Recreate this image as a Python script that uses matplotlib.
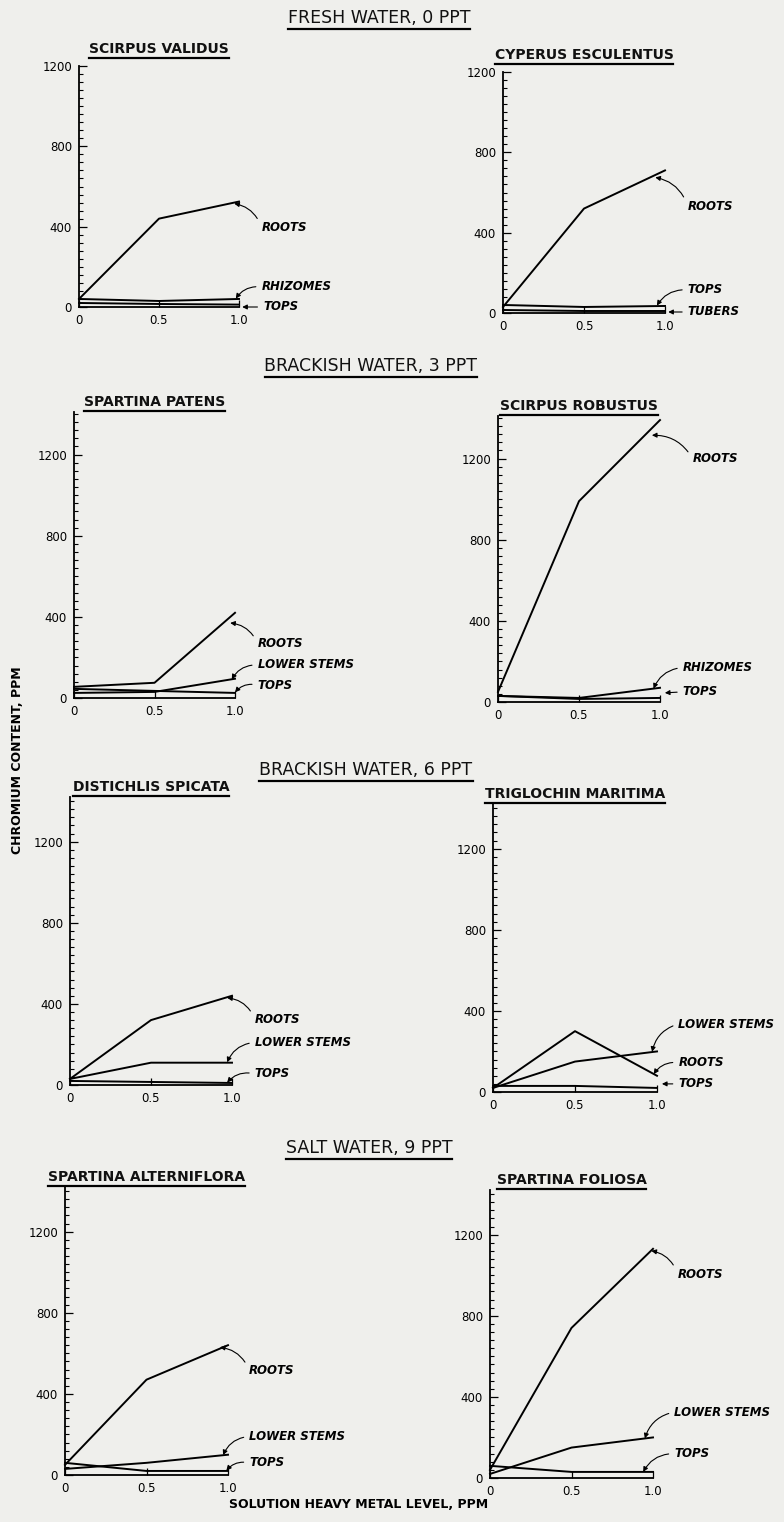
import matplotlib
matplotlib.use("Agg")
import matplotlib.pyplot as plt
from matplotlib.lines import Line2D
from matplotlib.ticker import MultipleLocator

# solution heavy metal level, ppm
levels = [0, 0.5, 1.0]

# fresh water, 0 ppt
validus_roots = [40, 440, 525]
validus_rhizomes = [40, 30, 40]
validus_tops = [20, 15, 12]

cyperus_roots = [30, 520, 710]
cyperus_tops = [40, 30, 35]
cyperus_tubers = [15, 10, 10]

# brackish water, 3 ppt
patens_roots = [55, 75, 420]
patens_lower_stems = [25, 30, 95]
patens_tops = [45, 35, 25]

robustus_roots = [50, 990, 1390]
robustus_rhizomes = [30, 20, 70]
robustus_tops = [30, 15, 20]

# brackish water, 6 ppt
distichlis_roots = [30, 320, 440]
distichlis_lower_stems = [30, 110, 110]
distichlis_tops = [20, 15, 10]

triglochin_roots = [20, 300, 80]
triglochin_lower_stems = [20, 150, 200]
triglochin_tops = [30, 30, 20]

# salt water, 9 ppt
alterniflora_roots = [50, 470, 640]
alterniflora_lower_stems = [30, 60, 100]
alterniflora_tops = [60, 20, 20]

foliosa_roots = [40, 740, 1130]
foliosa_lower_stems = [20, 150, 200]
foliosa_tops = [60, 30, 30]

BG = "#efefec"
W, H = 784, 1522

fig = plt.figure(figsize=(7.84, 15.22), dpi=100, facecolor=BG)


def px_axes(left, bottom, width, height):
    return fig.add_axes([left / W, 1 - bottom / H, width / W, height / H])


# (title, axes px box, ymax, series, labels: (text, text xy, arrow xy, rad))
panels = [
    ("SCIRPUS VALIDUS", (79, 307, 160, 241), 1200,
     [validus_roots, validus_rhizomes, validus_tops],
     [("ROOTS", (1.14, 395), (0.97, 515), 0.3),
      ("RHIZOMES", (1.14, 100), (0.98, 42), 0.3),
      ("TOPS", (1.15, 0), (1.02, 0), 0.0)]),
    ("CYPERUS ESCULENTUS", (503, 313, 162, 241), 1200,
     [cyperus_roots, cyperus_tops, cyperus_tubers],
     [("ROOTS", (1.14, 530), (0.94, 675), 0.3),
      ("TOPS", (1.14, 115), (0.95, 37), 0.3),
      ("TUBERS", (1.14, 5), (1.02, 5), 0.0)]),
    ("SPARTINA PATENS", (74, 698, 161, 286), 1410,
     [patens_roots, patens_lower_stems, patens_tops],
     [("ROOTS", (1.14, 267), (0.97, 370), 0.3),
      ("LOWER STEMS", (1.14, 163), (0.98, 92), 0.3),
      ("TOPS", (1.14, 64), (1.0, 28), 0.3)]),
    ("SCIRPUS ROBUSTUS", (498, 702, 162, 286), 1410,
     [robustus_roots, robustus_rhizomes, robustus_tops],
     [("ROOTS", (1.2, 1200), (0.95, 1315), 0.3),
      ("RHIZOMES", (1.14, 170), (0.96, 66), 0.3),
      ("TOPS", (1.14, 50), (1.03, 45), 0.0)]),
    ("DISTICHLIS SPICATA", (70, 1085, 162, 288), 1420,
     [distichlis_roots, distichlis_lower_stems, distichlis_tops],
     [("ROOTS", (1.14, 325), (0.97, 430), 0.3),
      ("LOWER STEMS", (1.14, 210), (0.97, 112), 0.3),
      ("TOPS", (1.14, 55), (0.97, 12), 0.3)]),
    ("TRIGLOCHIN MARITIMA", (493, 1092, 164, 288), 1420,
     [triglochin_roots, triglochin_lower_stems, triglochin_tops],
     [("LOWER STEMS", (1.13, 335), (0.97, 198), 0.3),
      ("ROOTS", (1.13, 145), (0.98, 88), 0.3),
      ("TOPS", (1.13, 40), (1.03, 40), 0.0)]),
    ("SPARTINA ALTERNIFLORA", (65, 1475, 163, 288), 1420,
     [alterniflora_roots, alterniflora_lower_stems, alterniflora_tops],
     [("ROOTS", (1.13, 515), (0.95, 630), 0.3),
      ("LOWER STEMS", (1.13, 190), (0.97, 98), 0.3),
      ("TOPS", (1.13, 60), (0.99, 22), 0.3)]),
    ("SPARTINA FOLIOSA", (490, 1478, 163, 288), 1420,
     [foliosa_roots, foliosa_lower_stems, foliosa_tops],
     [("ROOTS", (1.15, 1005), (0.99, 1120), 0.3),
      ("LOWER STEMS", (1.13, 325), (0.95, 195), 0.3),
      ("TOPS", (1.13, 120), (0.94, 30), 0.3)]),
]

underlined = []

for title, box, ymax, series, labels in panels:
    ax = px_axes(*box)
    ax.set_facecolor("none")
    for vals in series:
        ax.plot(levels, vals, color="black", lw=1.4, clip_on=False)
    ax.set_xlim(0, 1.0)
    ax.set_ylim(0, ymax)
    for side in ("top", "right"):
        ax.spines[side].set_visible(False)
    ax.spines["left"].set_linewidth(1.3)
    ax.spines["bottom"].set_linewidth(1.3)
    ax.set_yticks([0, 400, 800, 1200])
    ax.yaxis.set_minor_locator(MultipleLocator(40))
    ax.set_xticks([0, 0.5, 1.0])
    ax.set_xticklabels(["0", "0.5", "1.0"])
    ax.tick_params(axis="y", which="major", direction="in", length=6, width=0.9,
                   labelsize=8.5, pad=5)
    ax.tick_params(axis="y", which="minor", direction="in", length=3, width=0.8)
    ax.tick_params(axis="x", direction="in", length=5, width=0.9, labelsize=8.5, pad=5)
    for text, txy, axy, rad in labels:
        ax.annotate(text, xy=axy, xytext=txy, ha="left", va="center",
                    fontsize=8.5, fontweight="bold", fontstyle="italic",
                    annotation_clip=False,
                    arrowprops=dict(arrowstyle="-|>", color="black", lw=0.8,
                                    mutation_scale=7, shrinkA=2, shrinkB=0,
                                    relpos=(0, 0.5),
                                    connectionstyle=f"arc3,rad={rad}"))
    cx = (box[0] + box[0] + box[2]) / 2
    gap = 17 if ymax == 1200 else 10
    t = fig.text(cx / W, 1 - (box[1] - box[3] - gap) / H, title, ha="center",
                 va="center", fontsize=10, fontweight="bold", color="#111111")
    underlined.append(t)

sections = [
    ("FRESH WATER, 0 PPT", 379, 18),
    ("BRACKISH WATER, 3 PPT", 371, 366),
    ("BRACKISH WATER, 6 PPT", 366, 770),
    ("SALT WATER, 9 PPT", 369, 1148),
]
for text, x, y in sections:
    t = fig.text(x / W, 1 - y / H, text, ha="center", va="center",
                 fontsize=12.5, color="#111111")
    underlined.append(t)

fig.text(18 / W, 1 - 760 / H, "CHROMIUM CONTENT, PPM", rotation=90,
         ha="center", va="center", fontsize=9, fontweight="bold")
fig.text(359 / W, 1 - 1505 / H, "SOLUTION HEAVY METAL LEVEL, PPM",
         ha="center", va="center", fontsize=9, fontweight="bold")

# underline titles
fig.canvas.draw()
renderer = fig.canvas.get_renderer()
for t in underlined:
    bb = t.get_window_extent(renderer)
    y = (bb.y0 - 2) / H
    fig.add_artist(Line2D([bb.x0 / W, bb.x1 / W], [y, y], color="black", lw=1.6))

fig.savefig("out.png", dpi=100, facecolor=BG)
